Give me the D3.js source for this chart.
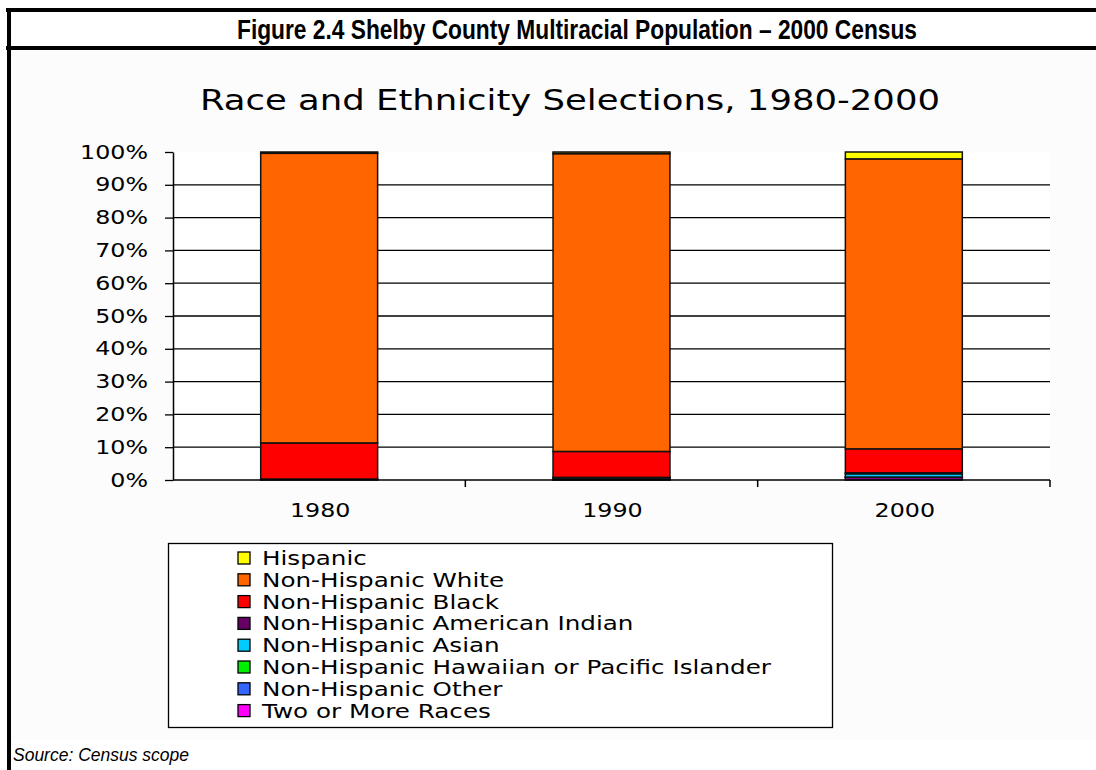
<!DOCTYPE html>
<html>
<head>
<meta charset="utf-8">
<script src="https://cdn.jsdelivr.net/npm/d3@7"></script>
<style>
  body { margin: 0; background: #fff; }
  svg { display: block; }
</style>
</head>
<body>
<div id="chart"></div>
<script>
// Stacked 100% bars, Shelby County race/ethnicity
const years = ["1980", "1990", "2000"];
const groups = [
  "Hispanic",
  "Non-Hispanic White",
  "Non-Hispanic Black",
  "Non-Hispanic American Indian",
  "Non-Hispanic Asian",
  "Non-Hispanic Hawaiian or Pacific Islander",
  "Non-Hispanic Other",
  "Two or More Races"
];
const colors = ["#ffff00", "#ff6600", "#ff0000", "#660066", "#00ccff", "#00ee00", "#3366ff", "#ff00ff"];
// percent values per year, same order as groups
const hispanic = [0.4, 0.5, 2.1];
const white = [88.3, 90.8, 88.4];
const black = [11.0, 7.9, 7.3];
const amerInd = [0.1, 0.2, 0.3];
const asian = [0.2, 0.5, 1.0];
const hawaiian = [0, 0, 0.05];
const other = [0, 0.1, 0.1];
const twoOrMore = [0, 0, 0.75];
const yTicks = [0, 10, 20, 30, 40, 50, 60, 70, 80, 90, 100];

const w = 1096, h = 770;
const plot = { left: 173, right: 1050, top: 152, bottom: 480 };
const wideFont = "'DejaVu Sans', Verdana, sans-serif";
const stretch = 1.25; // the old Verdana rendering is wider than DejaVu

// widen a text selection's glyphs by the stretch factor
function widen(sel, k = stretch) {
  sel.each(function () {
    const len = this.getComputedTextLength();
    d3.select(this).attr("textLength", len * k).attr("lengthAdjust", "spacingAndGlyphs");
  });
}

const seriesVals = [hispanic, white, black, amerInd, asian, hawaiian, other, twoOrMore];
const table = years.map((y, i) => {
  const row = { year: y };
  groups.forEach((g, j) => (row[g] = seriesVals[j][i]));
  return row;
});

const svg = d3.select("#chart").append("svg").attr("width", w).attr("height", h);

// chart background
svg.append("rect").attr("x", 10).attr("y", 50).attr("width", w - 10).attr("height", 690).attr("fill", "#fcfcfc");

// header frame
svg.append("line").attr("x1", 6).attr("x2", w).attr("y1", 10).attr("y2", 10).attr("stroke", "#000").attr("stroke-width", 4);
svg.append("line").attr("x1", 6).attr("x2", w).attr("y1", 48).attr("y2", 48).attr("stroke", "#000").attr("stroke-width", 4);
svg.append("line").attr("x1", 9).attr("x2", 9).attr("y1", 8).attr("y2", h).attr("stroke", "#000").attr("stroke-width", 4);

svg.append("text")
  .attr("x", 577).attr("y", 39)
  .attr("text-anchor", "middle")
  .attr("textLength", 680)
  .attr("lengthAdjust", "spacingAndGlyphs")
  .style("font-family", "'Liberation Sans', Arial, sans-serif")
  .style("font-weight", "bold")
  .style("font-size", "27px")
  .text("Figure 2.4 Shelby County Multiracial Population \u2013 2000 Census");

svg.append("text")
  .attr("x", 570).attr("y", 110)
  .attr("text-anchor", "middle")
  .attr("textLength", 740)
  .attr("lengthAdjust", "spacingAndGlyphs")
  .style("font-family", wideFont)
  .style("font-size", "29px")
  .attr("fill", "#000")
  .text("Race and Ethnicity Selections, 1980-2000");

// plot area
svg.append("rect")
  .attr("x", plot.left).attr("y", plot.top)
  .attr("width", plot.right - plot.left).attr("height", plot.bottom - plot.top)
  .attr("fill", "#fff");

const x = d3.scaleBand().domain(years).range([plot.left, plot.right]).paddingInner(0.6).paddingOuter(0.3);
const xEdges = d3.scaleLinear().domain([0, years.length]).range([plot.left, plot.right]);
const y = d3.scaleLinear().domain([0, 100]).range([plot.bottom, plot.top]);

// gridlines
svg.append("g")
  .selectAll("line")
  .data(yTicks.filter((t) => t > 0 && t < 100))
  .join("line")
  .attr("x1", plot.left).attr("x2", plot.right)
  .attr("y1", (d) => y(d)).attr("y2", (d) => y(d))
  .attr("stroke", "#000").attr("stroke-width", 1.3);

// stacked bars, bottom is last group
const stack = d3.stack().keys(groups.slice().reverse())(table);
const colorOf = d3.scaleOrdinal().domain(groups).range(colors);

svg.append("g")
  .selectAll("g")
  .data(stack)
  .join("g")
  .attr("fill", (s) => colorOf(s.key))
  .selectAll("rect")
  .data((s) => s.filter((d) => d[1] - d[0] > 0))
  .join("rect")
  .attr("x", (d) => x(d.data.year))
  .attr("width", x.bandwidth())
  .attr("y", (d) => y(d[1]))
  .attr("height", (d) => y(d[0]) - y(d[1]))
  .attr("stroke", "#111")
  .attr("stroke-width", 1.5);

// y axis
const yAxis = d3.axisLeft(y).tickValues(yTicks).tickFormat((d) => d + "%").tickSize(8).tickSizeOuter(0);
const gy = svg.append("g").attr("transform", `translate(${plot.left},0)`).call(yAxis);
gy.select(".domain").attr("stroke", "#000").attr("stroke-width", 1.5);
gy.selectAll(".tick line").attr("stroke", "#000").attr("stroke-width", 1.3);
gy.selectAll(".tick text")
  .attr("x", -25)
  .attr("fill", "#000")
  .style("font-family", wideFont)
  .style("font-size", "19px")
  .call(widen);

// x axis
svg.append("line")
  .attr("x1", plot.left).attr("x2", plot.right)
  .attr("y1", plot.bottom).attr("y2", plot.bottom)
  .attr("stroke", "#000").attr("stroke-width", 1.5);
svg.append("g")
  .selectAll("line")
  .data(d3.range(1, years.length + 1))
  .join("line")
  .attr("x1", (d) => xEdges(d)).attr("x2", (d) => xEdges(d))
  .attr("y1", plot.bottom).attr("y2", plot.bottom + 7)
  .attr("stroke", "#000").attr("stroke-width", 1.5);
svg.append("g")
  .selectAll("text")
  .data(years)
  .join("text")
  .attr("x", (d) => x(d) + x.bandwidth() / 2 + 1)
  .attr("y", 517)
  .attr("text-anchor", "middle")
  .style("font-family", wideFont)
  .style("font-size", "19px")
  .text((d) => d)
  .call(widen);

// legend
svg.append("rect")
  .attr("x", 168.5).attr("y", 543.5).attr("width", 664).attr("height", 184)
  .attr("fill", "#fff").attr("stroke", "#000").attr("stroke-width", 1.3);
const leg = svg.append("g")
  .selectAll("g")
  .data(groups)
  .join("g")
  .attr("transform", (d, i) => `translate(238, ${558 + i * 21.8})`);
leg.append("rect")
  .attr("x", 0).attr("y", -6).attr("width", 12).attr("height", 12)
  .attr("fill", (d) => colorOf(d))
  .attr("stroke", "#000").attr("stroke-width", 1.3);
leg.append("text")
  .attr("x", 24).attr("y", 7)
  .style("font-family", wideFont)
  .style("font-size", "20px")
  .text((d) => d)
  .call(widen, 1.23);

svg.append("text")
  .attr("x", 13).attr("y", 761)
  .attr("textLength", 176)
  .attr("lengthAdjust", "spacingAndGlyphs")
  .style("font-family", "'Liberation Sans', Arial, sans-serif")
  .style("font-style", "italic")
  .style("font-size", "19px")
  .text("Source: Census scope");
</script>
</body>
</html>
